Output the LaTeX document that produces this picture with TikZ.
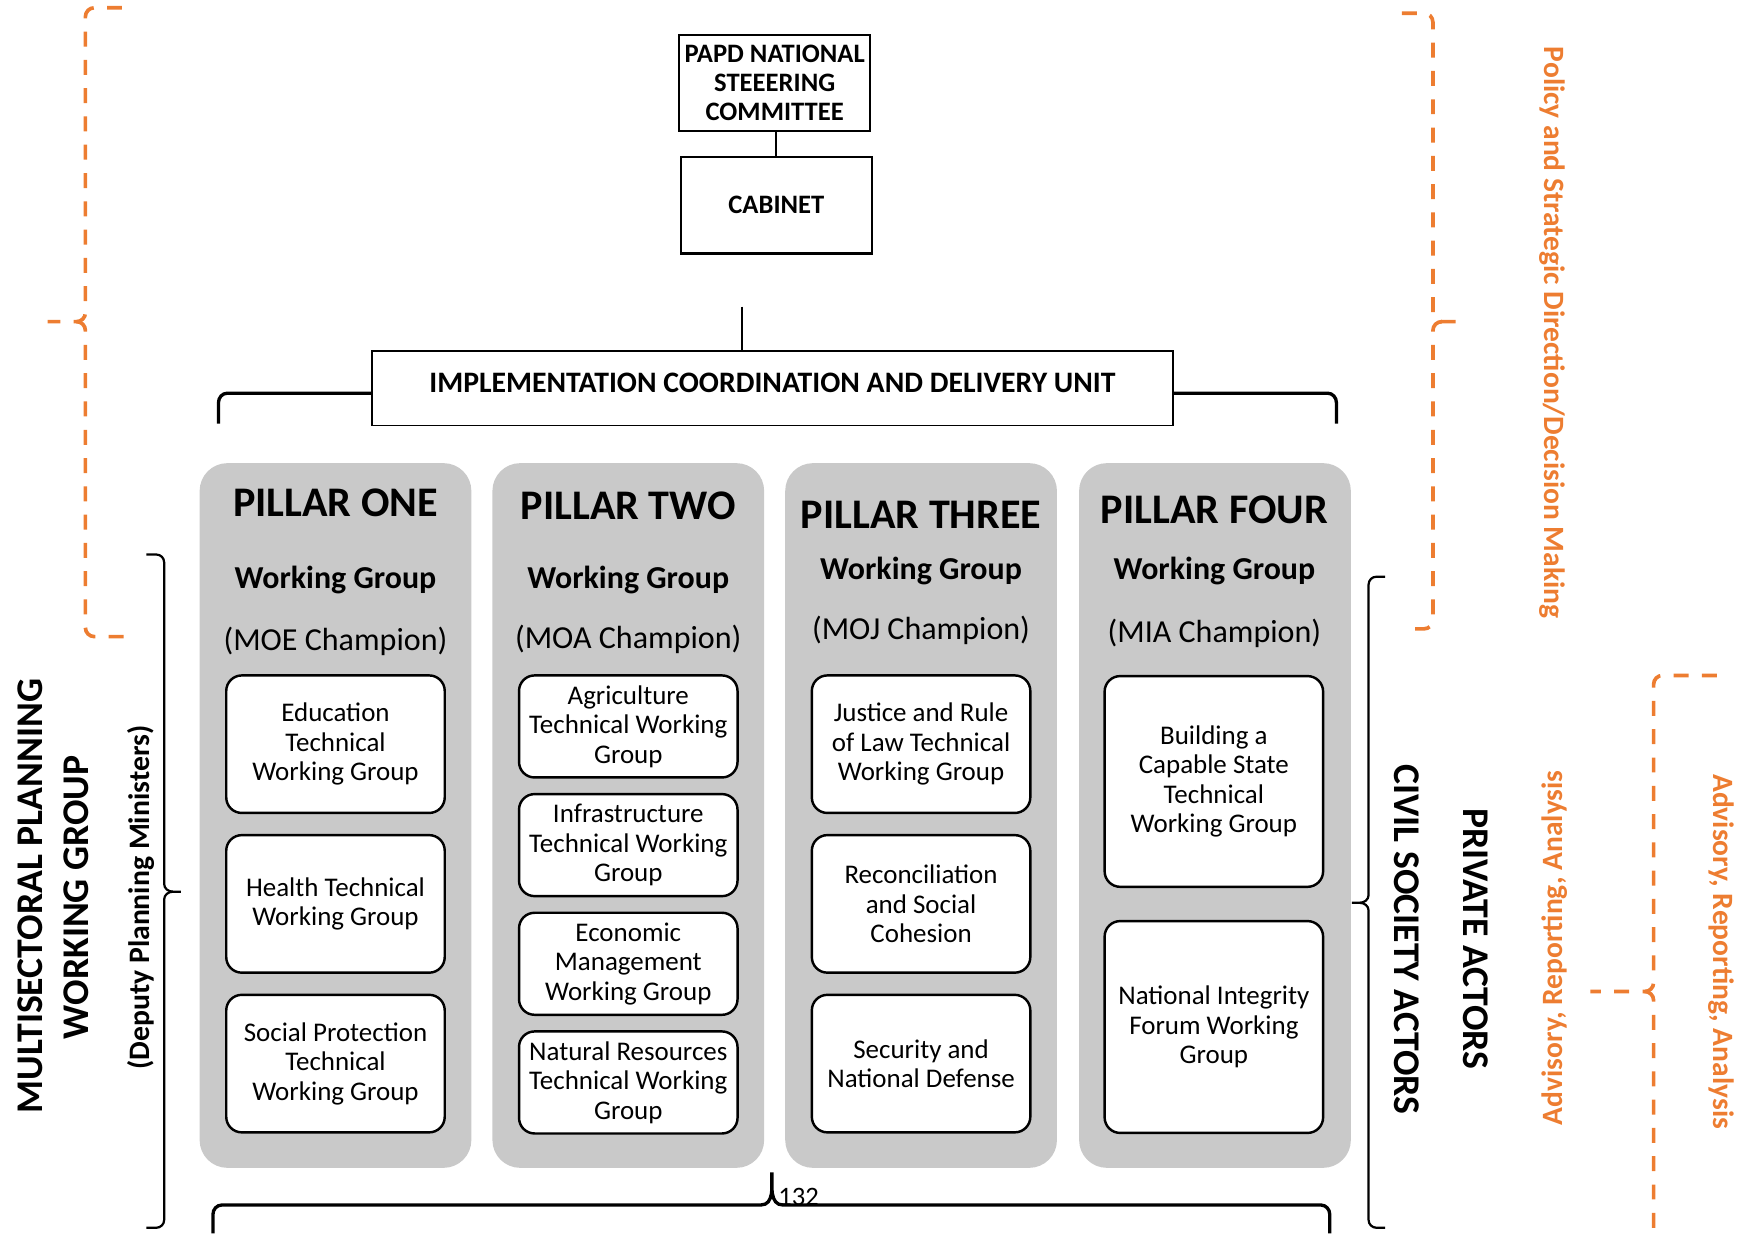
\documentclass[tikz,border=0pt]{standalone}
\usepackage{fontspec}
\setmainfont{Carlito}
\definecolor{pgray}{RGB}{201,201,201}
\definecolor{orng}{RGB}{237,125,49}
\newcommand{\fTop}{\fontsize{24}{26}\selectfont\bfseries}
\newcommand{\fImpl}{\fontsize{26.8}{30}\selectfont\bfseries}
\newcommand{\fPil}{\fontsize{38}{44}\selectfont\bfseries}
\newcommand{\fWG}{\fontsize{28.8}{33}\selectfont\bfseries}
\newcommand{\fCh}{\fontsize{28.9}{33}\selectfont}
\newcommand{\fIn}{\fontsize{24.3}{26.5}\selectfont}
\newcommand{\fSide}{\fontsize{34}{40}\selectfont\bfseries}
\newcommand{\fDep}{\fontsize{26.8}{30}\selectfont\bfseries}
\newcommand{\fOr}{\fontsize{26.6}{30}\selectfont\bfseries}
\newcommand{\fNum}{\fontsize{24}{28}\selectfont}
\tikzset{
  topbox/.style={draw, line width=2pt, align=center, inner sep=0pt, font=\fTop},
  implbox/.style={draw, line width=1.5pt, inner sep=0pt, font=\fImpl},
  pillarbg/.style={fill=pgray, rounded corners=25pt},
  wgbox/.style={draw, fill=white, line width=2.2pt, rounded corners=14pt, align=center, inner sep=0pt, font=\fIn, minimum width=197pt},
  ptitle/.style={inner sep=0pt, font=\fPil},
  pwg/.style={inner sep=0pt, font=\fWG},
  pch/.style={inner sep=0pt, font=\fCh},
  sidetxt/.style={inner sep=0pt, font=\fSide},
  ortxt/.style={inner sep=0pt, font=\fOr, text=orng},
  thickbr/.style={line width=3pt},
  thinbr/.style={line width=2pt},
  obrace/.style={draw=orng, line width=3.3pt, dash pattern=on 13.5pt off 12pt},
}
\begin{document}
\begin{tikzpicture}[x=1pt, y=-1pt]
\useasboundingbox (0,0) rectangle (1568,1112);

% top boxes
\node[topbox, minimum width=172pt, minimum height=86.5pt] (papd) at (698.5,75) {PAPD NATIONAL\\STEEERING\\COMMITTEE};
\node[topbox, minimum width=172pt, minimum height=87pt] (cab) at (700,185) {CABINET};
\draw[line width=1.8pt] (cab.north) -- (cab.north |- papd.south);

% implementation unit
\node[implbox, minimum width=722pt, minimum height=67pt] (impl) at (696.5,350) {\raisebox{9pt}{IMPLEMENTATION COORDINATION AND DELIVERY UNIT}};
\coordinate (itop) at (669,276.5);
\draw[line width=1pt] (itop) -- (itop |- impl.north);
\draw[thickbr] ([yshift=-4.5pt]impl.west) -- (205,354.5) to[out=180,in=90] (197,363) -- (197,382);
\draw[thickbr] ([yshift=-4.5pt]impl.east) -- (1197,354.5) to[out=0,in=90] (1205,363) -- (1205,382);

% pillar backgrounds
\fill[pillarbg] (180,417.6) rectangle (425,1053);
\fill[pillarbg] (444,417.6) rectangle (689,1053);
\fill[pillarbg] (708,417.6) rectangle (953,1053);
\fill[pillarbg] (973,417.6) rectangle (1218,1053);

% pillar headings
\node[ptitle] (t1) at (302.5,453) {PILLAR ONE};
\node[pwg] (w1) at (302.5,523) {Working Group};
\node[pch] (c1) at (302.5,578.5) {(MOE Champion)};
\node[ptitle] (t2) at (566.5,456) {PILLAR TWO};
\node[pwg] (w2) at (566.5,523) {Working Group};
\node[pch] (c2) at (566.5,576.5) {(MOA Champion)};
\node[ptitle] (t3) at (830.5,464) {PILLAR THREE};
\node[pwg] (w3) at (830.5,515) {Working Group};
\node[pch] (c3) at (830.5,568.5) {(MOJ Champion)};
\node[ptitle] (t4) at (1095,460) {PILLAR FOUR};
\node[pwg] (w4) at (1095,515) {Working Group};
\node[pch] (c4) at (1095,571.5) {(MIA Champion)};

% pillar one boxes
\node[wgbox, minimum height=124pt] (p1a) at (302.5,671) {Education\\Technical\\Working Group};
\node[wgbox, minimum height=124pt] (p1b) at (302.5,815) {Health Technical\\Working Group};
\node[wgbox, minimum height=124pt] (p1c) at (302.5,959) {Social Protection\\Technical\\Working Group};
% pillar two boxes
\node[wgbox, minimum height=92pt] (p2a) at (566.5,655) {Agriculture\\Technical Working\\Group};
\node[wgbox, minimum height=92pt] (p2b) at (566.5,762) {Infrastructure\\Technical Working\\Group};
\node[wgbox, minimum height=92pt] (p2c) at (566.5,869) {Economic\\Management\\Working Group};
\node[wgbox, minimum height=92pt] (p2d) at (566.5,976) {Natural Resources\\Technical Working\\Group};
% pillar three boxes
\node[wgbox, minimum height=124pt] (p3a) at (830.5,671) {Justice and Rule\\of Law Technical\\Working Group};
\node[wgbox, minimum height=124pt] (p3b) at (830.5,815) {Reconciliation\\and Social\\Cohesion};
\node[wgbox, minimum height=124pt] (p3c) at (830.5,959) {Security and\\National Defense};
% pillar four boxes
\node[wgbox, minimum height=190pt] (p4a) at (1094.5,704.6) {Building a\\Capable State\\Technical\\Working Group};
\node[wgbox, minimum height=191pt] (p4b) at (1094.5,926) {National Integrity\\Forum Working\\Group};

% bottom brace
\draw[thickbr] (192,1112) -- (192,1095) to[out=90,in=180] (200,1086.5) -- (686,1086.5) to[out=0,in=-90] (696,1057) to[out=-90,in=180] (706,1086.5) -- (1191,1086.5) to[out=0,in=90] (1199,1095) -- (1199,1112);
\node[inner sep=0pt, font=\fNum] (num) at (720,1079) {132};

% left black brace
\draw[thinbr] (132,500) -- (141,500) to[out=0,in=90] (148,507) -- (148,797) to[out=-90,in=180] (156,804) -- (163,804);
\draw[thinbr] (156,804) to[out=180,in=90] (148,811) -- (148,1100) to[out=-90,in=0] (141,1107) -- (132,1107);
% right black brace
\draw[thinbr] (1249,520) -- (1241,520) to[out=180,in=90] (1234,527) -- (1234,807) to[out=-90,in=0] (1226,814) -- (1219,814);
\draw[thinbr] (1226,814) to[out=0,in=90] (1234,821) -- (1234,1100) to[out=-90,in=180] (1241,1107) -- (1249,1107);

% side texts
\node[sidetxt, rotate=90] (ms) at (27,808) {MULTISECTORAL PLANNING};
\node[sidetxt, rotate=90] (wg) at (68.5,809) {WORKING GROUP};
\node[inner sep=0pt, font=\fDep, rotate=90] (dp) at (127,809.5) {(Deputy Planning Ministers)};
\node[sidetxt, rotate=-90] (cs) at (1268,847) {CIVIL SOCIETY ACTORS};
\node[sidetxt, rotate=-90] (pa) at (1331,846.5) {PRIVATE ACTORS};

% orange texts
\node[ortxt, rotate=-90] (pol) at (1400,300) {Policy and Strategic Direction/Decision Making};
\node[ortxt, rotate=90] (adv1) at (1402,854.5) {Advisory, Reporting, Analysis};
\node[ortxt, rotate=-90] (adv2) at (1552,858) {Advisory, Reporting, Analysis};

% orange dashed braces
\draw[obrace] (110,7) -- (85,7) to[out=180,in=90] (77,15) -- (77,282) to[out=-90,in=0] (69,290) -- (43,290);
\draw[obrace] (69,290) to[out=0,in=90] (77,298) -- (77,566) to[out=-90,in=180] (85,574) -- (113,574);
\draw[obrace] (1264,12) -- (1284,12) to[out=0,in=90] (1292,20) -- (1292,282) to[out=-90,in=180] (1300,290) -- (1321,290);
\draw[obrace] (1300,290) to[out=180,in=90] (1292,298) -- (1292,559) to[out=-90,in=0] (1284,567) -- (1264,567);
\draw[obrace] (1548,609) -- (1499,609) to[out=180,in=90] (1491,617) -- (1491,886) to[out=-90,in=0] (1483,894) -- (1434,894);
\draw[obrace] (1483,894) to[out=0,in=90] (1491,902) -- (1491,1112);
\end{tikzpicture}
\end{document}
